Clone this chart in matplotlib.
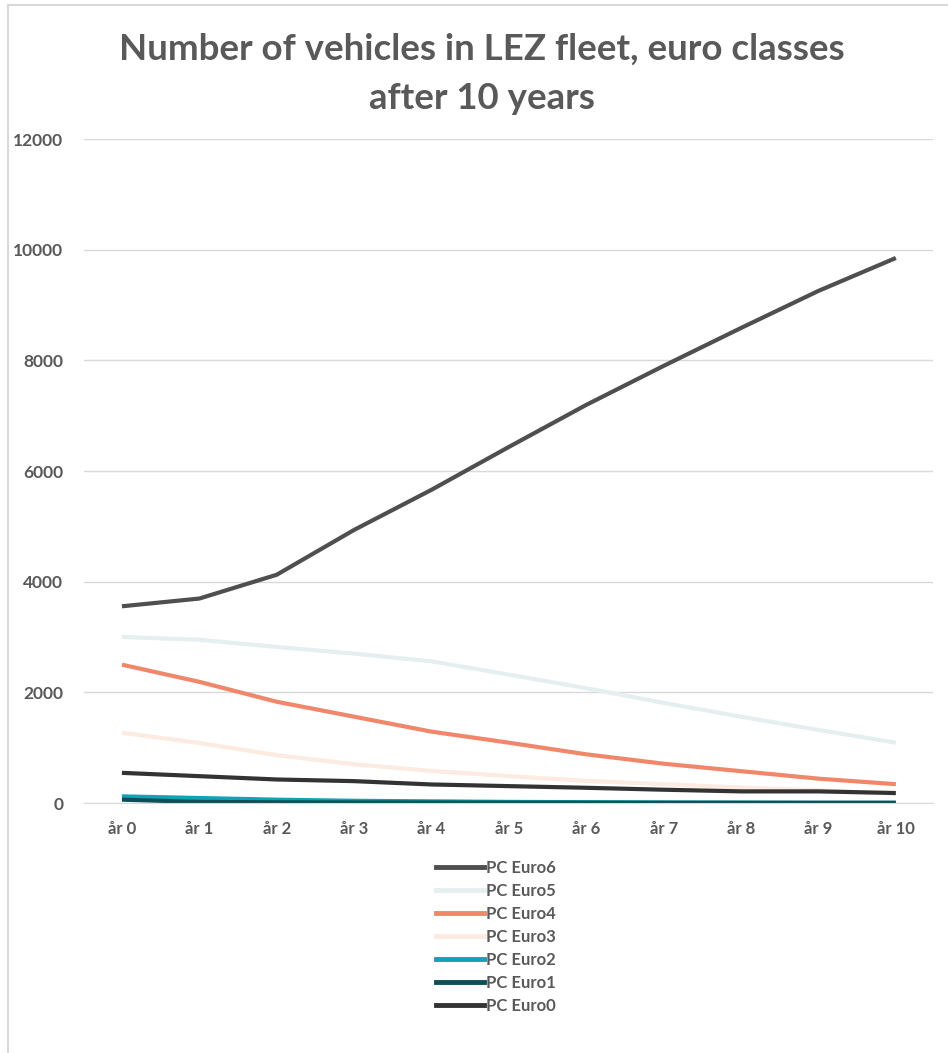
import matplotlib
matplotlib.use("Agg")
import matplotlib.pyplot as plt
from matplotlib.lines import Line2D

# Fleet composition per euro class, year 0 to year 10
years = ["år 0", "år 1", "år 2", "år 3", "år 4", "år 5", "år 6", "år 7", "år 8", "år 9", "år 10"]
euro6 = [3555, 3695, 4125, 4935, 5660, 6435, 7195, 7900, 8585, 9255, 9850]
euro5 = [3000, 2950, 2820, 2700, 2560, 2320, 2075, 1810, 1560, 1320, 1090]
euro4 = [2500, 2190, 1830, 1560, 1290, 1090, 880, 710, 575, 440, 340]
euro3 = [1270, 1085, 865, 700, 580, 485, 400, 340, 280, 230, 170]
euro2 = [120, 90, 60, 40, 30, 20, 15, 10, 8, 5, 5]
euro1 = [60, 20, 12, 10, 8, 6, 5, 4, 3, 3, 3]
euro0 = [545, 485, 425, 395, 335, 305, 275, 240, 210, 210, 180]

series = [
    ("PC Euro6", euro6, "#4f4f4f"),
    ("PC Euro5", euro5, "#e5eff0"),
    ("PC Euro4", euro4, "#f0876a"),
    ("PC Euro3", euro3, "#fcebe1"),
    ("PC Euro2", euro2, "#10a3b6"),
    ("PC Euro1", euro1, "#0d4f54"),
    ("PC Euro0", euro0, "#333333"),
]

grey = "#595959"
plt.rcParams['font.family'] = ['Lato', 'DejaVu Sans']

fig = plt.figure(figsize=(9.48, 10.53), dpi=100)
ax = fig.add_axes([84 / 948, 1 - 803 / 1053, (933 - 84) / 948, (803 - 139) / 1053])

x = list(range(len(years)))
for name, vals, col in series:
    ax.plot(x, vals, color=col, lw=3.0, label=name, solid_capstyle='butt')

ax.set_xlim(-0.49, 10.48)
ax.set_ylim(0, 12000)
ax.set_yticks(range(0, 12001, 2000))
ax.set_xticks(x)
ax.set_xticklabels(years)
ax.grid(axis='y', color='#d9d9d9', lw=1.0)
ax.set_axisbelow(True)
for sp in ax.spines.values():
    sp.set_visible(False)
ax.spines['bottom'].set_visible(True)
ax.spines['bottom'].set_color('#d9d9d9')
ax.tick_params(axis='y', length=0, colors=grey, labelsize=12.5, pad=15)
ax.tick_params(axis='x', length=0, colors=grey, labelsize=12, pad=13)
for lab in ax.get_xticklabels() + ax.get_yticklabels():
    lab.set_fontweight('bold')

fig.text(0.508, 1 - 74 / 1053, "Number of vehicles in LEZ fleet, euro classes\nafter 10 years",
         ha='center', va='center', fontsize=26.4, fontweight='bold', color=grey,
         linespacing=1.6)

handles = [Line2D([], [], color=c, lw=3.5) for _, _, c in series]
leg = fig.legend(handles, [s[0] for s in series], loc='upper left',
                 bbox_to_anchor=(436 / 948, 1 - 860 / 1053), frameon=False,
                 fontsize=12, handlelength=2.85, handletextpad=0.12,
                 labelspacing=0.42, borderpad=0, borderaxespad=0)
for t in leg.get_texts():
    t.set_color(grey)
    t.set_fontweight('bold')

# thin frame on the left and top edges
fig.add_artist(Line2D([8 / 948, 8 / 948], [0, 1 - 5 / 1053], color='#d9d9d9', lw=1.5,
                      transform=fig.transFigure))
fig.add_artist(Line2D([8 / 948, 1], [1 - 5 / 1053, 1 - 5 / 1053], color='#d9d9d9', lw=1.5,
                      transform=fig.transFigure))

fig.savefig("out.png", dpi=100)
